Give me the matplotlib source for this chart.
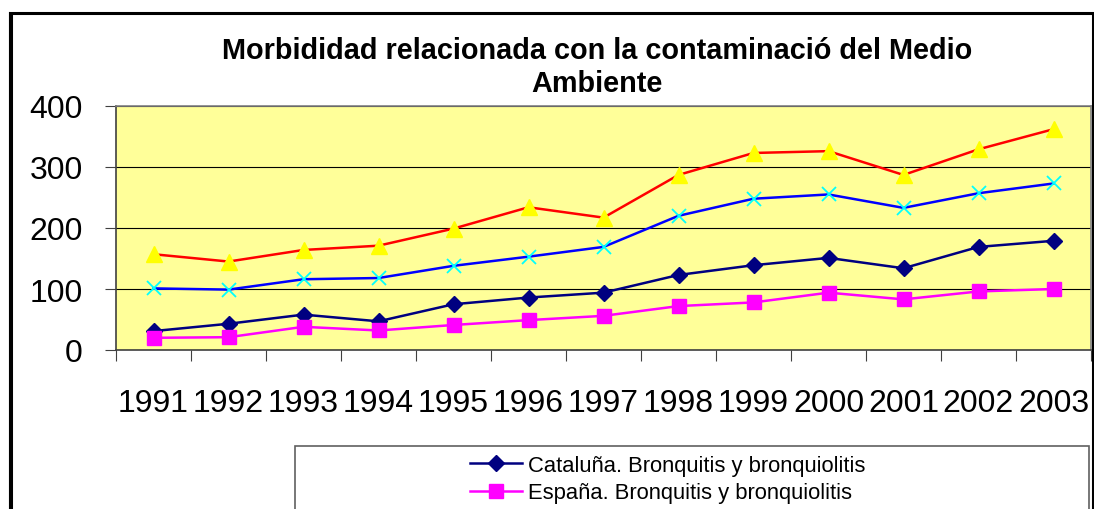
import matplotlib
matplotlib.use('Agg')
import matplotlib.pyplot as plt
from matplotlib.patches import Rectangle
from matplotlib.lines import Line2D

plt.rcParams['font.family'] = ['Liberation Sans', 'DejaVu Sans']

# ==================== datos ====================
years = ['1991', '1992', '1993', '1994', '1995', '1996', '1997',
         '1998', '1999', '2000', '2001', '2002', '2003']
cat_bronq = [31, 43, 58, 47, 75, 86, 94, 123, 139, 151, 134, 169, 179]
esp_bronq = [20, 21, 38, 32, 41, 49, 56, 72, 78, 94, 83, 96, 100]
serie_azul = [101, 99, 116, 118, 138, 153, 169, 220, 248, 255, 233, 257, 273]
serie_roja = [157, 145, 164, 171, 199, 234, 217, 287, 323, 326, 287, 329, 362]

W, H = 1094, 510
fig = plt.figure(figsize=(W / 100, H / 100), dpi=100)

# marco exterior del grafico
fig.patches.append(Rectangle((10.5 / W, -0.1), (1092.5 - 10.5) / W, (1.1 - 13.5 / H),
                             transform=fig.transFigure, fill=False,
                             edgecolor='black', linewidth=2.2))
fig.lines.append(Line2D([9 / W, 9 / W], [-0.1, 1 - 13 / H], transform=fig.transFigure,
                        color='black', linewidth=0.8))

ax = fig.add_axes([116 / W, 1 - 351 / H, (1091 - 116) / W, (351 - 107) / H])
ax.set_facecolor('#FFFF99')

x = list(range(len(years)))
ax.plot(x, serie_roja, color='#FF0000', linewidth=1.8, marker='^', markersize=11,
        markerfacecolor='#FFFF00', markeredgecolor='#FFFF00', zorder=3)
ax.plot(x, serie_azul, color='#0000FF', linewidth=1.8, marker='x', markersize=10,
        markeredgewidth=1.3, markeredgecolor='#00FFFF', zorder=3)
ax.plot(x, cat_bronq, color='#000080', linewidth=1.8, marker='D', markersize=8,
        markerfacecolor='#000080', markeredgecolor='#000080', zorder=3,
        label='Cataluña. Bronquitis y bronquiolitis')
ax.plot(x, esp_bronq, color='#FF00FF', linewidth=1.8, marker='s', markersize=10,
        markerfacecolor='#FF00FF', markeredgecolor='#FF00FF', zorder=3,
        label='España. Bronquitis y bronquiolitis')

ax.set_xlim(-0.5, len(years) - 0.5)
ax.set_ylim(0, 400)
ax.set_yticks([0, 100, 200, 300, 400])
ax.set_xticks(x)
ax.set_xticklabels(years)
ax.set_xticks([i - 0.5 for i in range(len(years) + 1)], minor=True)
ax.tick_params(axis='x', which='major', length=0, pad=27, labelsize=23)
ax.tick_params(axis='x', which='minor', length=8, width=0.8, color='#404040')
ax.tick_params(axis='y', length=8, width=0.8, color='#404040', pad=16, labelsize=23)

ax.yaxis.grid(True, color='black', linewidth=0.8)
ax.set_axisbelow(True)
ax.spines['top'].set_color('#808080')
ax.spines['right'].set_color('#808080')
ax.spines['left'].set_color('#404040')
ax.spines['bottom'].set_color('#404040')
for s in ax.spines.values():
    s.set_linewidth(1.2)

fig.text(597 / W, 1 - 51 / H, 'Morbididad relacionada con la contaminació del Medio',
         ha='center', va='center', fontsize=20.8, fontweight='bold')
fig.text(597 / W, 1 - 84 / H, 'Ambiente',
         ha='center', va='center', fontsize=20.8, fontweight='bold')

# leyenda (cortada por abajo)
fig.patches.append(Rectangle((295 / W, -0.1), (1089 - 295) / W, 0.1 + 1 - 447 / H,
                             transform=fig.transFigure, facecolor='white',
                             edgecolor='#606060', linewidth=1.2))
fig.legend(loc='upper left', bbox_to_anchor=(461 / W, 1 - 447 / H), frameon=False,
           fontsize=15.8, handlelength=2.4, handletextpad=0.25, labelspacing=0.3,
           borderaxespad=0)

plt.savefig('out.png', dpi=100)
